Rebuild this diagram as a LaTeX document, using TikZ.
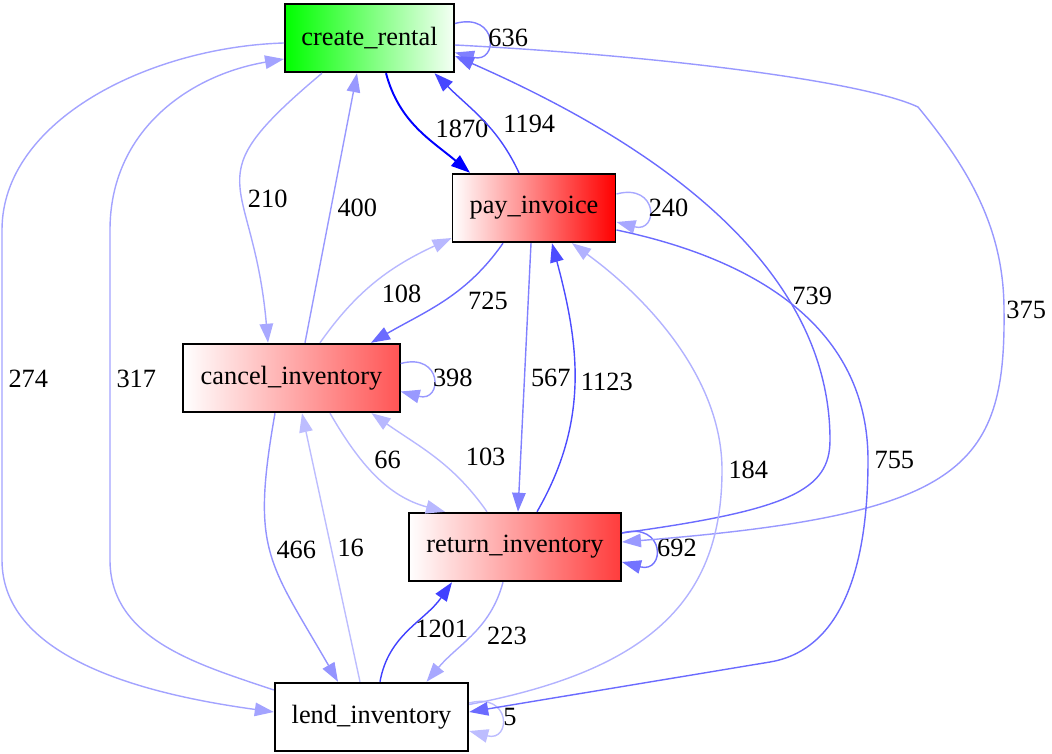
\documentclass[tikz,border=0pt]{standalone}
\usepackage{fontspec}
\setmainfont{Liberation Serif}
\usepackage{tikz}
\usetikzlibrary{arrows.meta}
\definecolor{mygreen}{RGB}{0, 255, 0}
\definecolor{myred}{RGB}{255, 0, 0}
\definecolor{mylightred}{RGB}{255, 85, 85}
\definecolor{mymidred}{RGB}{255, 60, 60}

\begin{document}
\begin{tikzpicture}[> = {Triangle[length = 0.38cm, width = 0.27cm]}, line width = 0.8pt,
  state/.style={draw = black, line width = 1.1pt, minimum height = 1.37cm, inner sep = 0pt, font = \fontsize{15}{18}\selectfont},
  flow/.style={->, draw = blue!#1},
  freq/.style={font = \fontsize{15}{18}\selectfont}]
  \useasboundingbox (0, 0) rectangle (21.04, -15.08);

  % nodes
  \node [state, minimum width = 3.38cm, left color = mygreen, right color = mygreen!4] (create-rental) at (7.39, -0.76) {create\_rental};
  \node [state, minimum width = 3.26cm, left color = white, right color = myred] (pay-invoice) at (10.68, -4.16) {pay\_invoice};
  \node [state, minimum width = 4.33cm, left color = white, right color = mylightred] (cancel-inventory) at (5.83, -7.56) {cancel\_inventory};
  \node [state, minimum width = 4.24cm, left color = white, right color = mymidred] (return-inventory) at (10.30, -10.94) {return\_inventory};
  \node [state, minimum width = 3.87cm, fill = white] (lend-inventory) at (7.43, -14.34) {lend\_inventory};

  % self loops
  \path ([yshift = 0.29cm]create-rental.east) edge[flow = 50, out = 15, in = -15, looseness = 4] node [freq, right, inner sep = 0pt] (n-636) {636} ([yshift = -0.29cm]create-rental.east);
  \path ([yshift = 0.28cm]pay-invoice.east) edge[flow = 34, out = 15, in = -15, looseness = 4] node [freq, right, inner sep = 0pt] (n-240) {240} ([yshift = -0.28cm]pay-invoice.east);
  \path ([yshift = 0.29cm]cancel-inventory.east) edge[flow = 40, out = 15, in = -15, looseness = 4] node [freq, right, inner sep = 0pt] (n-398) {398} ([yshift = -0.27cm]cancel-inventory.east);
  \path ([yshift = 0.28cm]return-inventory.east) edge[flow = 55, out = 15, in = -15, looseness = 4] node [freq, right, inner sep = 1pt] (n-692) {692} ([yshift = -0.3cm]return-inventory.east);
  \path ([yshift = 0.28cm]lend-inventory.east) edge[flow = 26, out = 15, in = -15, looseness = 4] node [freq, right, inner sep = 1pt] (n-5) {5} ([yshift = -0.28cm]lend-inventory.east);

  % edges - create_rental
  \path ([xshift = 0.33cm]create-rental.south) edge[flow = 100, line width = 1.1pt, out = -75, in = 140] node [freq, right = 6pt] (n-1870) {1870} ([xshift = -1.28cm]pay-invoice.north);
  \path ([xshift = -0.3cm]pay-invoice.north) edge[flow = 72, out = 115, in = -45] node [freq, pos = 0.45, right = 6pt] (n-1194) {1194} ([xshift = 1.3cm]create-rental.south);
  \path ([xshift = -0.95cm]create-rental.south) edge[flow = 34, out = -140, in = 95, looseness = 1.6] node [freq, pos = 0.57, right] (n-210) {210} ([xshift = -0.47cm]cancel-inventory.north);
  \path ([xshift = 0.27cm]cancel-inventory.north) edge[flow = 40] node [freq, right] (n-400) {400} ([xshift = -0.25cm]create-rental.south);

  \draw[flow = 36] ([yshift = -0.1cm]create-rental.west) .. controls (3.0, -0.94) and (0.04, -2.4) .. (0.04, -4.6)
    -- (0.04, -11.2) node [freq, pos = 0.45, right] (n-274) {274}
    .. controls (0.04, -13.2) and (3.0, -13.9) .. ([yshift = 0.1cm]lend-inventory.west);
  \draw[flow = 36] ([yshift = 0.54cm]lend-inventory.west) .. controls (4.0, -13.3) and (2.2, -12.8) .. (2.2, -11.2)
    -- (2.2, -4.6) node [freq, pos = 0.55, right] (n-317) {317}
    .. controls (2.2, -2.6) and (3.8, -1.5) .. ([yshift = -0.42cm]create-rental.west);

  \draw[flow = 58] ([yshift = 0.28cm]return-inventory.east) .. controls (15.8, -10.2) and (16.6, -9.8) .. (16.6, -8.8)
    .. controls (16.6, -6.6) and (15.2, -3.8) .. ([yshift = -0.36cm]create-rental.east) node [freq, pos = 0.4, right] (n-739) {739};
  \draw[flow = 40] ([yshift = -0.14cm]create-rental.east) .. controls (13.0, -1.1) and (17.2, -1.6) .. (18.36, -2.14)
    .. controls (19.4, -3.4) and (20.08, -4.6) .. (20.08, -6.2) node [freq, right, inner sep = 1pt] (n-375) {375}
    .. controls (20.12, -9.4) and (19.2, -10.3) .. ([yshift = 0.1cm]return-inventory.east);

  % edges - pay_invoice
  \path ([xshift = -0.62cm]pay-invoice.south) edge[flow = 58, out = -125, in = 30] node [freq, right = 10pt] (n-725) {725} ([xshift = 1.59cm]cancel-inventory.north);
  \path ([xshift = 0.57cm]cancel-inventory.north) edge[flow = 28, out = 55, in = 205] node [freq, pos = 0.5, below right, inner sep = 2pt] (n-108) {108} ([yshift = -0.6cm]pay-invoice.west);
  \path ([xshift = -0.06cm]pay-invoice.south) edge[flow = 50] node [freq, right] (n-567) {567} ([xshift = 0.06cm]return-inventory.north);
  \path ([xshift = 0.44cm]return-inventory.north) edge[flow = 70, out = 60, in = -75] node [freq, right] (n-1123) {1123} ([xshift = 0.36cm]pay-invoice.south);

  \draw[flow = 58] ([yshift = -0.44cm]pay-invoice.east) .. controls (15.2, -5.2) and (17.36, -6.6) .. (17.36, -9.2) node [freq, right] (n-755) {755}
    .. controls (17.36, -11.8) and (16.6, -13.04) .. (15.4, -13.24) -- ([yshift = 0.1cm]lend-inventory.east);
  \draw[flow = 30] ([yshift = 0.25cm]lend-inventory.east) .. controls (13.0, -13.4) and (14.44, -12.0) .. (14.44, -9.4) node [freq, right] (n-184) {184}
    .. controls (14.44, -7.6) and (13.0, -6.0) .. ([xshift = 0.76cm]pay-invoice.south);

  % edges - cancel, return, lend
  \path ([xshift = 0.77cm]cancel-inventory.south) edge[flow = 28, out = -60, in = 165] node [freq, pos = 0.45, above right, inner sep = 1pt] (n-66) {66} ([xshift = -1.4cm]return-inventory.north);
  \path ([xshift = -0.56cm]return-inventory.north) edge[flow = 28, out = 125, in = -35] node [freq, right = 14pt] (n-103) {103} ([xshift = 1.6cm]cancel-inventory.south);
  \path ([xshift = -0.33cm]cancel-inventory.south) edge[flow = 42, out = -100, in = 120, looseness = 1.3] node [freq, pos = 0.48, right] (n-466) {466} ([xshift = -0.67cm]lend-inventory.north);
  \path ([xshift = -0.23cm]lend-inventory.north) edge[flow = 26] node [freq, right] (n-16) {16} ([xshift = 0.21cm]cancel-inventory.south);
  \path ([xshift = 0.17cm]lend-inventory.north) edge[flow = 75, out = 80, in = -125] node [freq, right] (n-1201) {1201} ([xshift = -1.26cm]return-inventory.south);
  \path ([xshift = -0.24cm]return-inventory.south) edge[flow = 34, out = -105, in = 50] node [freq, right = 5pt] (n-223) {223} ([xshift = 1.1cm]lend-inventory.north);

\end{tikzpicture}
\end{document}
